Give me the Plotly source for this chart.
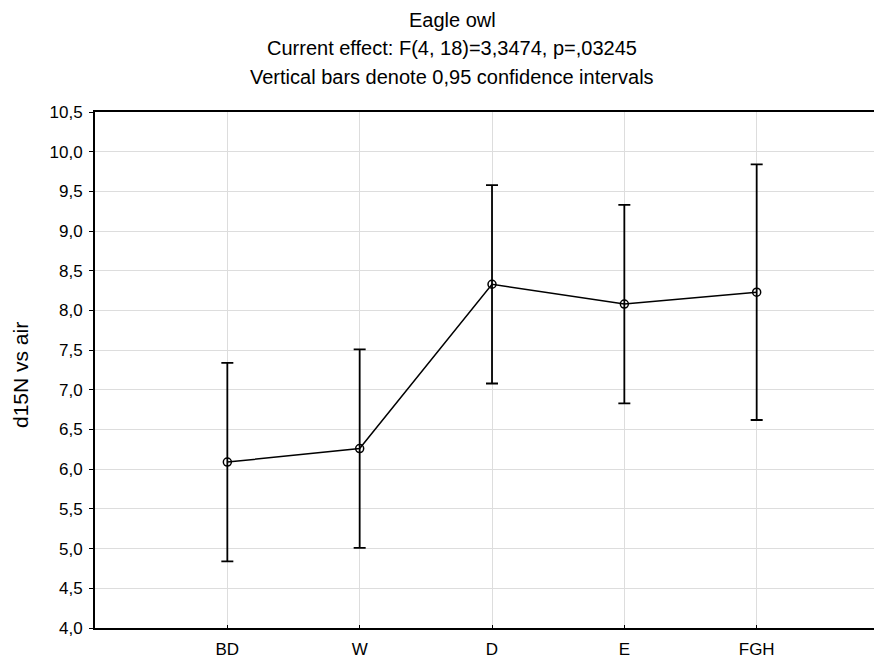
import plotly.graph_objects as go

categories = ["BD", "W", "D", "E", "FGH"]
means = [6.09, 6.26, 8.33, 8.08, 8.23]
ci_half = [1.25, 1.25, 1.25, 1.25, 1.61]
y_ticks = [4.0, 4.5, 5.0, 5.5, 6.0, 6.5, 7.0, 7.5, 8.0, 8.5, 9.0, 9.5, 10.0, 10.5]

title_lines = [
    "Eagle owl",
    "Current effect: F(4, 18)=3,3474, p=,03245",
    "Vertical bars denote 0,95 confidence intervals",
]
y_label = "d15N vs air"

FONT = "Liberation Sans, Arial, sans-serif"
idx = list(range(len(categories)))

fig = go.Figure()
fig.add_trace(go.Scatter(
    x=idx, y=means, mode="lines+markers",
    line=dict(color="black", width=1.5),
    marker=dict(symbol="circle-open", size=8, color="black", line=dict(width=1.5, color="black")),
    error_y=dict(type="data", array=ci_half, visible=True, color="black", thickness=1.8, width=6),
    showlegend=False,
))

# page has an 8px body margin; compensate so the plot area lands where the reference has it
OFF = 8
W, H = 882 - OFF, 664 - OFF
L, R, T, B = 95 - OFF, 0, 112 - OFF, 36
plot_left, plot_right = 95, 882
plot_top, plot_bottom = 112, 628

def py(p):
    return (plot_bottom - p) / (plot_bottom - plot_top)

def px(p):
    return (p - plot_left) / (plot_right - plot_left)

annotations = []
for txt, ypix in zip(title_lines, [20, 48, 77]):
    annotations.append(dict(text=txt, x=px(452), y=py(ypix), xref="paper", yref="paper",
                            showarrow=False, xanchor="center", yanchor="middle",
                            font=dict(family=FONT, size=20, color="black")))
annotations.append(dict(text=y_label, x=px(20), y=py(375), xref="paper", yref="paper",
                        showarrow=False, textangle=-90, xanchor="center", yanchor="middle",
                        font=dict(family=FONT, size=21, color="black")))

fig.update_layout(
    width=W, height=H,
    margin=dict(l=L, r=R, t=T, b=B, autoexpand=False),
    paper_bgcolor="white", plot_bgcolor="white",
    separators=",.",
    font=dict(family=FONT, size=16, color="black"),
    annotations=annotations,
    xaxis=dict(
        range=[-1, 4.947], tickmode="array", tickvals=idx, ticktext=categories,
        showgrid=True, gridcolor="#dddddd", gridwidth=1,
        showline=True, linecolor="black", linewidth=2, mirror=True,
        ticks="inside", ticklen=3, tickcolor="black", zeroline=False,
        ticklabelstandoff=5,
        tickfont=dict(family=FONT, size=17, color="black"),
    ),
    yaxis=dict(
        range=[4.0, 10.5], tickmode="array", tickvals=y_ticks,
        ticktext=[f"{v:.1f}".replace(".", ",") for v in y_ticks],
        showgrid=True, gridcolor="#dddddd", gridwidth=1,
        showline=True, linecolor="black", linewidth=2, mirror=True,
        ticks="outside", ticklen=4, tickcolor="black", zeroline=False,
        ticklabelstandoff=3,
        tickfont=dict(family=FONT, size=17, color="black"),
    ),
)

fig.write_html("out.html")
